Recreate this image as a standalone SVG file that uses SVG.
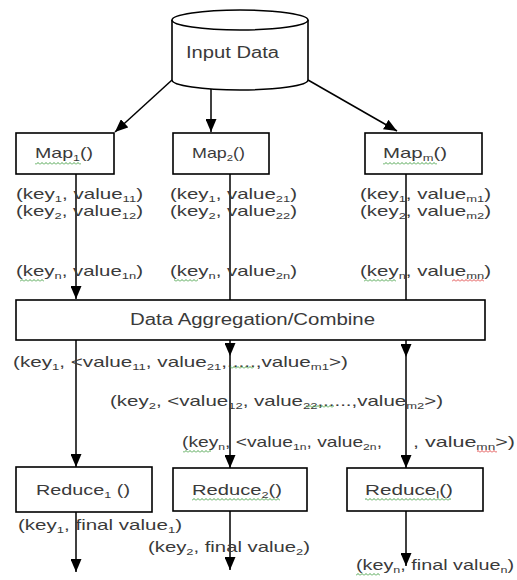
<svg xmlns="http://www.w3.org/2000/svg" width="517" height="580" viewBox="0 0 517 580">
<style>
.bx{fill:#fff;stroke:#000;stroke-width:1.6}
.ln{fill:none;stroke:#000;stroke-width:1.5}
.t{font-family:"Liberation Sans",Arial,sans-serif;font-size:15px;fill:#3a3a3a}
.tb{font-family:"Liberation Sans",Arial,sans-serif;font-size:16px;fill:#3a3a3a}
.sb{font-size:9.5px}
.sq{stroke:none}
</style>
<defs>
<marker id="ah" viewBox="0 0 13 11" refX="13" refY="5.5" markerWidth="13" markerHeight="11" markerUnits="userSpaceOnUse" orient="auto">
<path d="M0,0 L13,5.5 L0,11 z" fill="#000"/>
</marker>
<pattern id="gw" patternUnits="userSpaceOnUse" width="4" height="3">
<path d="M0,2.5 L2,0.5 L4,2.5" fill="none" stroke="#3a9a3a" stroke-width="0.9"/>
</pattern>
<pattern id="rw" patternUnits="userSpaceOnUse" width="4" height="3">
<path d="M0,2.5 L2,0.5 L4,2.5" fill="none" stroke="#d33" stroke-width="0.9"/>
</pattern>
</defs>
<rect width="517" height="580" fill="#fff"/>

<g id="connectors">
<path class="ln" d="M172,80 L115,132" marker-end="url(#ah)"/>
<path class="ln" d="M211,89 L211,132" marker-end="url(#ah)"/>
<path class="ln" d="M308,80 L397,131" marker-end="url(#ah)"/>
<path class="ln" d="M76,174 L76,299" marker-end="url(#ah)"/>
<path class="ln" d="M230,174 L230,356" marker-end="url(#ah)"/>
<path class="ln" d="M230,356 L230,468" marker-end="url(#ah)"/>
<path class="ln" d="M406,174 L406,357" marker-end="url(#ah)"/>
<path class="ln" d="M406,357 L406,468" marker-end="url(#ah)"/>
<path class="ln" d="M76,340 L76,467" marker-end="url(#ah)"/>
<path class="ln" d="M76,512 L76,572" marker-end="url(#ah)"/>
<path class="ln" d="M230,511 L230,570" marker-end="url(#ah)"/>
<path class="ln" d="M406,511 L406,566" marker-end="url(#ah)"/>
</g>

<g id="input-data">
<path class="bx" d="M172,20 L172,80 A68,10 0 0 0 308,80 L308,20"/>
<ellipse class="bx" cx="240" cy="20" rx="68" ry="10"/>
<text class="tb" x="186" y="58" textLength="93" lengthAdjust="spacingAndGlyphs">Input Data</text>
</g>

<g id="map1">
<rect class="bx" x="16" y="133" width="98" height="41"/>
<text class="t" x="35" y="158" textLength="58" lengthAdjust="spacingAndGlyphs">Map<tspan class="sb" dy="3">1</tspan><tspan dy="-3">()</tspan></text>
</g>
<g id="map2">
<rect class="bx" x="173" y="133" width="96" height="41"/>
<text class="t" x="192" y="158" textLength="53" lengthAdjust="spacingAndGlyphs">Map<tspan class="sb" dy="3">2</tspan><tspan dy="-3">()</tspan></text>
</g>
<g id="mapm">
<rect class="bx" x="365" y="133" width="117" height="41"/>
<text class="t" x="383" y="158" textLength="64" lengthAdjust="spacingAndGlyphs">Map<tspan class="sb" dy="3">m</tspan><tspan dy="-3">()</tspan></text>
</g>

<g id="map-outputs">
<text class="t" x="16" y="199" textLength="127" lengthAdjust="spacingAndGlyphs">(key<tspan class="sb" dy="3">1</tspan><tspan dy="-3">, value</tspan><tspan class="sb" dy="3">11</tspan><tspan dy="-3">)</tspan></text>
<text class="t" x="16" y="216" textLength="127" lengthAdjust="spacingAndGlyphs">(key<tspan class="sb" dy="3">2</tspan><tspan dy="-3">, value</tspan><tspan class="sb" dy="3">12</tspan><tspan dy="-3">)</tspan></text>
<text class="t" x="16" y="276" textLength="127" lengthAdjust="spacingAndGlyphs">(key<tspan class="sb" dy="3">n</tspan><tspan dy="-3">, value</tspan><tspan class="sb" dy="3">1n</tspan><tspan dy="-3">)</tspan></text>
<text class="t" x="170" y="199" textLength="127" lengthAdjust="spacingAndGlyphs">(key<tspan class="sb" dy="3">1</tspan><tspan dy="-3">, value</tspan><tspan class="sb" dy="3">21</tspan><tspan dy="-3">)</tspan></text>
<text class="t" x="170" y="216" textLength="127" lengthAdjust="spacingAndGlyphs">(key<tspan class="sb" dy="3">2</tspan><tspan dy="-3">, value</tspan><tspan class="sb" dy="3">22</tspan><tspan dy="-3">)</tspan></text>
<text class="t" x="170" y="276" textLength="127" lengthAdjust="spacingAndGlyphs">(key<tspan class="sb" dy="3">n</tspan><tspan dy="-3">, value</tspan><tspan class="sb" dy="3">2n</tspan><tspan dy="-3">)</tspan></text>
<text class="t" x="360" y="199" textLength="131" lengthAdjust="spacingAndGlyphs">(key<tspan class="sb" dy="3">1</tspan><tspan dy="-3">, value</tspan><tspan class="sb" dy="3">m1</tspan><tspan dy="-3">)</tspan></text>
<text class="t" x="360" y="216" textLength="131" lengthAdjust="spacingAndGlyphs">(key<tspan class="sb" dy="3">2</tspan><tspan dy="-3">, value</tspan><tspan class="sb" dy="3">m2</tspan><tspan dy="-3">)</tspan></text>
<text class="t" x="360" y="276" textLength="131" lengthAdjust="spacingAndGlyphs">(key<tspan class="sb" dy="3">n</tspan><tspan dy="-3">, value</tspan><tspan class="sb" dy="3">mn</tspan><tspan dy="-3">)</tspan></text>
</g>

<g id="aggregation">
<rect class="bx" x="16" y="300" width="469" height="40"/>
<text class="tb" x="130" y="325" textLength="245" lengthAdjust="spacingAndGlyphs">Data Aggregation/Combine</text>
</g>

<g id="aggregated-pairs">
<text class="t" x="13" y="367" textLength="335" lengthAdjust="spacingAndGlyphs">(key<tspan class="sb" dy="3">1</tspan><tspan dy="-3">, &lt;value</tspan><tspan class="sb" dy="3">11</tspan><tspan dy="-3">, value</tspan><tspan class="sb" dy="3">21</tspan><tspan dy="-3">,.....,value</tspan><tspan class="sb" dy="3">m1</tspan><tspan dy="-3">&gt;)</tspan></text>
<text class="t" x="110" y="406" textLength="333" lengthAdjust="spacingAndGlyphs">(key<tspan class="sb" dy="3">2</tspan><tspan dy="-3">, &lt;value</tspan><tspan class="sb" dy="3">12</tspan><tspan dy="-3">, value</tspan><tspan class="sb" dy="3">22</tspan><tspan dy="-3">,.....,value</tspan><tspan class="sb" dy="3">m2</tspan><tspan dy="-3">&gt;)</tspan></text>
<text class="t" x="182" y="447" textLength="200" lengthAdjust="spacingAndGlyphs">(key<tspan class="sb" dy="3">n</tspan><tspan dy="-3">, &lt;value</tspan><tspan class="sb" dy="3">1n</tspan><tspan dy="-3">, value</tspan><tspan class="sb" dy="3">2n</tspan><tspan dy="-3">,</tspan></text>
<text class="t" x="413" y="447" textLength="102" lengthAdjust="spacingAndGlyphs">, value<tspan class="sb" dy="3">mn</tspan><tspan dy="-3">&gt;)</tspan></text>
</g>

<g id="reduce1">
<rect class="bx" x="16" y="467" width="136" height="45"/>
<text class="t" x="36" y="495" textLength="94" lengthAdjust="spacingAndGlyphs">Reduce<tspan class="sb" dy="3">1</tspan><tspan dy="-3"> ()</tspan></text>
</g>
<g id="reduce2">
<rect class="bx" x="173" y="468" width="134" height="43"/>
<text class="t" x="192" y="495" textLength="90" lengthAdjust="spacingAndGlyphs">Reduce<tspan class="sb" dy="3">2</tspan><tspan dy="-3">()</tspan></text>
</g>
<g id="reducel">
<rect class="bx" x="347" y="468" width="136" height="43"/>
<text class="t" x="365" y="495" textLength="88" lengthAdjust="spacingAndGlyphs">Reduce<tspan class="sb" dy="3">l</tspan><tspan dy="-3">()</tspan></text>
</g>

<g id="final-outputs">
<text class="t" x="18" y="530" textLength="164" lengthAdjust="spacingAndGlyphs">(key<tspan class="sb" dy="3">1</tspan><tspan dy="-3">, final value</tspan><tspan class="sb" dy="3">1</tspan><tspan dy="-3">)</tspan></text>
<text class="t" x="148" y="552" textLength="162" lengthAdjust="spacingAndGlyphs">(key<tspan class="sb" dy="3">2</tspan><tspan dy="-3">, final value</tspan><tspan class="sb" dy="3">2</tspan><tspan dy="-3">)</tspan></text>
<text class="t" x="356" y="570" textLength="158" lengthAdjust="spacingAndGlyphs">(key<tspan class="sb" dy="3">n</tspan><tspan dy="-3">, final value</tspan><tspan class="sb" dy="3">n</tspan><tspan dy="-3">)</tspan></text>
</g>

<g id="spellcheck-marks">
<rect class="sq" x="35" y="162" width="46" height="3" fill="url(#gw)"/>
<rect class="sq" x="383" y="162" width="54" height="3" fill="url(#gw)"/>
<rect class="sq" x="20" y="279" width="24" height="3" fill="url(#gw)"/>
<rect class="sq" x="174" y="279" width="24" height="3" fill="url(#gw)"/>
<rect class="sq" x="364" y="279" width="32" height="3" fill="url(#gw)"/>
<rect class="sq" x="452" y="279" width="32" height="3" fill="url(#rw)"/>
<rect class="sq" x="230" y="366" width="24" height="3" fill="url(#gw)"/>
<rect class="sq" x="306" y="405" width="28" height="3" fill="url(#gw)"/>
<rect class="sq" x="183" y="450" width="28" height="3" fill="url(#gw)"/>
<rect class="sq" x="477" y="450" width="20" height="3" fill="url(#rw)"/>
<rect class="sq" x="192" y="498" width="88" height="3" fill="url(#gw)"/>
<rect class="sq" x="365" y="498" width="86" height="3" fill="url(#gw)"/>
<rect class="sq" x="356" y="573" width="24" height="3" fill="url(#gw)"/>
</g>
</svg>
